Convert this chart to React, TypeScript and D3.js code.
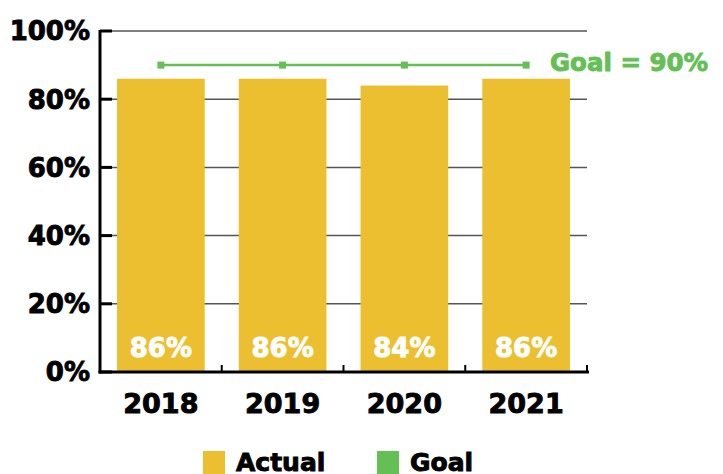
import React from "react";
import * as d3 from "d3";

const categories = ["2018", "2019", "2020", "2021"];
const actual = [86, 86, 84, 86];
const goal = [90, 90, 90, 90];
const yTicks = [0, 20, 40, 60, 80, 100];
const goalLabel = "Goal = 90%";
const legendItems = ["Actual", "Goal"];

const W = 723;
const H = 474;
const m = { left: 100, right: 136, top: 31, bottom: 102 };
const FONT = "'DejaVu Sans', sans-serif";
const BAR = "#ecbf30";
const GREEN = "#64bf55";
const SW = 0.9;

export default function App() {
  const x = d3
    .scaleBand<string>()
    .domain(categories)
    .range([m.left, W - m.right])
    .paddingInner(0.28)
    .paddingOuter(0.14);
  const y = d3.scaleLinear().domain([0, 100]).range([H - m.bottom, m.top]);
  const step = x.step();
  const bounds = categories.map((_, i) => m.left + step * 0.14 - (step * 0.28) / 2 + step * (i + 1));
  const gridRight = W - m.right;
  const cx = (c: string) => (x(c) as number) + x.bandwidth() / 2;
  const line = d3
    .line<number>()
    .x((_, i) => cx(categories[i]))
    .y((d) => y(d));

  return (
    <svg
      width={W}
      height={H}
      style={{ position: "absolute", left: 0, top: 0 }}
      fontFamily={FONT}
      fontWeight="bold"
    >
      {yTicks.map((t) => (
        <g key={t}>
          {t > 0 && (
            <line x1={m.left} x2={gridRight} y1={y(t)} y2={y(t)} stroke="#555" strokeWidth={1.5} />
          )}
          <line x1={m.left} x2={m.left + 12} y1={y(t)} y2={y(t)} stroke="#000" strokeWidth={3} />
          <text x={90} y={y(t)} dy="0.36em" textAnchor="end" fontSize={26} fill="#000" stroke="#000" strokeWidth={SW}>
            {t}%
          </text>
        </g>
      ))}
      {categories.map((c, i) => (
        <g key={c}>
          <rect x={x(c)} y={y(actual[i])} width={x.bandwidth()} height={y(0) - y(actual[i])} fill={BAR} />
          <text x={cx(c)} y={357} textAnchor="middle" fontSize={26} fill="#fff" stroke="#fff" strokeWidth={SW}>
            {actual[i]}%
          </text>
          <text x={cx(c)} y={413} textAnchor="middle" fontSize={27} fill="#000" stroke="#000" strokeWidth={SW}>
            {c}
          </text>
        </g>
      ))}
      <path d={line(goal) || ""} fill="none" stroke={GREEN} strokeWidth={2.5} />
      {goal.map((g, i) => (
        <rect key={i} x={cx(categories[i]) - 3.5} y={y(g) - 3.5} width={7} height={7} fill={GREEN} />
      ))}
      <text x={550} y={71} fontSize={24.5} fill={GREEN} stroke={GREEN} strokeWidth={SW}>
        {goalLabel}
      </text>
      {bounds.map((b, i) => (
        <line key={i} x1={b} x2={b} y1={y(0)} y2={y(0) - 7} stroke="#000" strokeWidth={2} />
      ))}
      <line x1={m.left} x2={m.left} y1={m.top - 1} y2={y(0) + 1.5} stroke="#000" strokeWidth={3} />
      <line x1={m.left - 1.5} x2={gridRight + 2} y1={y(0)} y2={y(0)} stroke="#000" strokeWidth={3} />
      <g>
        <rect x={203} y={451} width={22} height={23} fill={BAR} />
        <text x={236} y={471} fontSize={25} fill="#000" stroke="#000" strokeWidth={SW}>
          {legendItems[0]}
        </text>
        <rect x={377} y={451} width={22} height={23} fill={GREEN} />
        <text x={410} y={471} fontSize={25} fill="#000" stroke="#000" strokeWidth={SW}>
          {legendItems[1]}
        </text>
      </g>
    </svg>
  );
}
